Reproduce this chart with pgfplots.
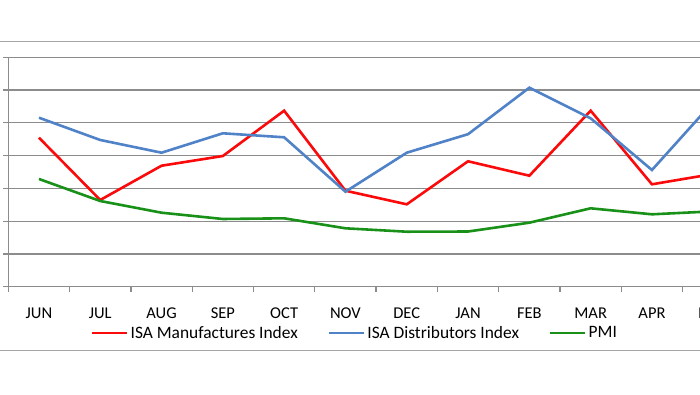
\documentclass[border=0pt]{standalone}
\usepackage{pgfplots}
\pgfplotsset{compat=1.18}
\usepackage{fontspec}
\setmainfont{Carlito}
\definecolor{cred}{RGB}{250,10,10}
\definecolor{cblue}{RGB}{80,130,200}
\definecolor{cgreen}{RGB}{25,145,25}
\definecolor{cgrid}{RGB}{140,140,140}
\definecolor{cborder}{RGB}{165,165,165}
\begin{document}
\begin{tikzpicture}[x=1pt,y=1pt]
\path[use as bounding box, clip] (0,0) rectangle (700,394);
\fill[white] (0,0) rectangle (700,394);
\draw[cborder, line width=1.3pt] (0,352.3) -- (700,352.3);
\draw[cborder, line width=1.3pt] (0,43.3) -- (700,43.3);
\begin{axis}[
  at={(8.3pt,107.3pt)}, anchor=south west,
  scale only axis, width=735.6pt, height=229.4pt,
  xmin=-0.5, xmax=11.5, ymin=0, ymax=7,
  axis x line=bottom, axis y line=left,
  axis line style={-, cgrid, line width=1.3pt},
  xtick={-0.5,0.5,...,11.5},
  xticklabels={JUN,JUL,AUG,SEP,OCT,NOV,DEC,JAN,FEB,MAR,APR,MAY},
  x tick label as interval,
  ytick={0,1,...,7}, yticklabels={},
  tick align=outside, major tick length=5pt,
  tick style={cgrid, line width=1.3pt},
  ymajorgrids, grid style={cgrid, line width=1.2pt},
  xticklabel style={font=\fontsize{16.5}{19}\selectfont, anchor=base, yshift=-26.6pt},
  legend columns=3,
  legend style={draw=none, fill=none, font=\fontsize{17.4}{20}\selectfont,
    at={(0.4713,-0.2018)}, anchor=center,
    /tikz/every even column/.append style={column sep=28pt}},
  legend image code/.code={\draw[#1] (0pt,0pt) -- (35pt,0pt);},
]
\addplot[cred, line width=2.6pt] coordinates {
(0,4.547) (1,2.646) (2,3.692) (3,3.988) (4,5.371) (5,2.929) (6,2.514) (7,3.827) (8,3.387) (9,5.371) (10,3.125) (11,3.44)};
\addlegendentry{ISA Manufactures Index}
\addplot[cblue, line width=2.6pt] coordinates {
(0,5.157) (1,4.477) (2,4.089) (3,4.681) (4,4.559) (5,2.899) (6,4.089) (7,4.654) (8,6.073) (9,5.139) (10,3.561) (11,5.64)};
\addlegendentry{ISA Distributors Index}
\addplot[cgreen, line width=2.6pt] coordinates {
(0,3.287) (1,2.615) (2,2.258) (3,2.066) (4,2.087) (5,1.782) (6,1.678) (7,1.684) (8,1.953) (9,2.392) (10,2.209) (11,2.30)};
\addlegendentry{PMI}
\end{axis}
\end{tikzpicture}
\end{document}
